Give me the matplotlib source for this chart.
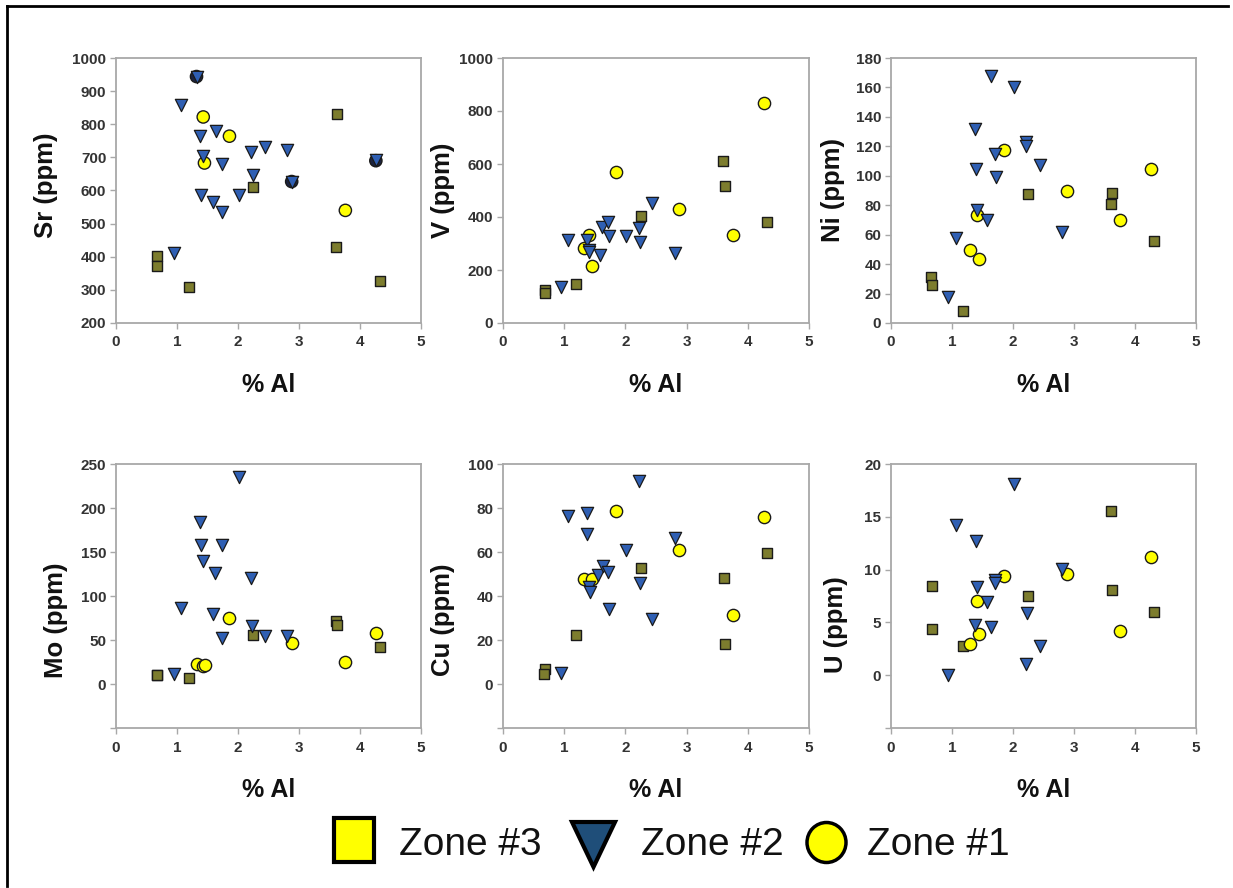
import matplotlib
matplotlib.use('Agg')
import matplotlib.pyplot as plt
from matplotlib.patches import Rectangle, Polygon, Ellipse
from matplotlib.lines import Line2D

plt.rcParams['font.family'] = ['Liberation Sans', 'DejaVu Sans']

# ---------------- data (x = % Al) ----------------
# Sr
sr_z3_x = [0.68, 0.68, 1.19, 2.25, 3.63, 3.60, 4.32]
sr_z3_y = [402, 372, 309, 611, 832, 429, 326]
sr_z2_x = [1.32, 1.06, 1.37, 1.64, 1.43, 1.73, 2.22, 2.44, 2.81, 2.24, 1.39, 1.59, 1.73, 2.02, 0.95, 2.88, 4.26]
sr_z2_y = [942, 859, 766, 780, 704, 680, 716, 731, 721, 647, 587, 566, 534, 585, 410, 627, 692]
sr_z1_x = [1.32, 1.43, 1.86, 1.45, 2.88, 4.26, 3.76]
sr_z1_y = [944, 822, 764, 683, 627, 690, 540]
sr_z1_dark = [True, False, False, False, True, True, False]

# V
v_z3_x = [0.68, 0.68, 1.19, 2.25, 3.60, 3.63, 4.31]
v_z3_y = [124, 113, 146, 405, 610, 516, 381]
v_z2_x = [0.94, 1.06, 1.37, 1.40, 1.40, 1.59, 1.62, 1.72, 1.73, 2.01, 2.22, 2.24, 2.44, 2.81]
v_z2_y = [134, 313, 315, 277, 267, 256, 363, 382, 329, 328, 359, 306, 451, 265]
v_z1_x = [1.32, 1.41, 1.46, 1.85, 2.88, 3.76, 4.26]
v_z1_y = [284, 333, 214, 570, 430, 333, 830]

# Ni
ni_z3_x = [0.66, 0.68, 1.18, 2.25, 3.63, 3.60, 4.31]
ni_z3_y = [31.2, 26, 8.4, 87.5, 88.2, 80.9, 56]
ni_z2_x = [0.93, 1.06, 1.37, 1.39, 1.41, 1.58, 1.64, 1.71, 1.72, 2.01, 2.22, 2.22, 2.45, 2.81]
ni_z2_y = [17.5, 57.6, 132, 104.8, 76.8, 70, 168, 115, 99, 160, 123, 120, 107.5, 62]
ni_z1_x = [1.30, 1.41, 1.44, 1.86, 2.88, 3.76, 4.27]
ni_z1_y = [49.4, 73.6, 43.7, 117.8, 89.7, 70.2, 104.3]

# Mo
mo_z3_x = [0.68, 0.68, 1.19, 2.25, 3.60, 3.63, 4.32]
mo_z3_y = [10.4, 10.0, 6.7, 56, 71.5, 66.7, 42.6]
mo_z2_x = [0.95, 1.07, 1.38, 1.39, 1.43, 1.73, 1.63, 1.59, 1.73, 2.02, 2.22, 2.23, 2.44, 2.81]
mo_z2_y = [11, 86, 184, 158, 140, 158, 126, 80, 52, 235, 120, 66, 55, 54]
mo_z1_x = [1.32, 1.43, 1.46, 1.86, 2.88, 3.75, 4.26]
mo_z1_y = [23, 21, 21.5, 75, 47, 25, 58.5]

# Cu
cu_z3_x = [0.68, 0.67, 1.19, 2.25, 3.61, 3.63, 4.31]
cu_z3_y = [6.8, 4.4, 22.4, 52.6, 48.3, 18.2, 59.7]
cu_z2_x = [0.94, 1.06, 1.38, 1.37, 1.40, 1.42, 1.56, 1.64, 1.72, 1.73, 2.01, 2.22, 2.24, 2.44, 2.81]
cu_z2_y = [4.9, 76.4, 77.8, 68.4, 44, 42, 49.6, 53.8, 50.8, 34.2, 60.7, 92.3, 45.9, 29.6, 66.4]
cu_z1_x = [1.32, 1.46, 1.85, 2.88, 3.76, 4.26]
cu_z1_y = [47.9, 47.9, 78.7, 60.9, 31.4, 76]

# U
u_z3_x = [0.68, 0.67, 1.18, 2.25, 3.61, 3.63, 4.31]
u_z3_y = [8.47, 4.33, 2.78, 7.51, 15.58, 8.04, 6.03]
u_z2_x = [0.93, 1.06, 1.39, 1.41, 1.37, 1.58, 1.64, 1.71, 1.71, 2.01, 2.23, 2.22, 2.45, 2.81]
u_z2_y = [0, 14.2, 12.7, 8.35, 4.8, 6.9, 4.6, 9.0, 8.7, 18.1, 5.9, 1.1, 2.8, 10.1]
u_z1_x = [1.30, 1.45, 1.41, 1.86, 2.88, 3.76, 4.27]
u_z1_y = [3.0, 3.9, 7.0, 9.4, 9.6, 4.2, 11.2]

x_ticks = [0, 1, 2, 3, 4, 5]
x_label = '% Al'
legend_labels = ['Zone #3', 'Zone #2', 'Zone #1']

# ---------------- figure ----------------
W, H = 1233, 888
fig = plt.figure(figsize=(W / 100, H / 100), dpi=100)

SQ_C = '#7d7d2e'
TRI_C = '#2f5fb3'
CIR_C = '#ffff00'
EDGE = '#1a1a1a'
SPINE = '#a8a8a8'

panels = [
    ('Sr (ppm)', (200, 1000), list(range(200, 1001, 100)),
     (sr_z3_x, sr_z3_y, sr_z2_x, sr_z2_y, sr_z1_x, sr_z1_y), (116, 58, 421, 323), -70, 185, sr_z1_dark),
    ('V (ppm)', (0, 1000), list(range(0, 1001, 200)),
     (v_z3_x, v_z3_y, v_z2_x, v_z2_y, v_z1_x, v_z1_y), (503, 58, 809, 323), -60, 190, None),
    ('Ni (ppm)', (0, 180), list(range(0, 181, 20)),
     (ni_z3_x, ni_z3_y, ni_z2_x, ni_z2_y, ni_z1_x, ni_z1_y), (891, 58, 1196, 323), -58, 190, None),
    ('Mo (ppm)', (-50, 250), list(range(-50, 251, 50)),
     (mo_z3_x, mo_z3_y, mo_z2_x, mo_z2_y, mo_z1_x, mo_z1_y), (116, 464, 421, 728), -60, 620, None),
    ('Cu (ppm)', (-20, 100), list(range(-20, 101, 20)),
     (cu_z3_x, cu_z3_y, cu_z2_x, cu_z2_y, cu_z1_x, cu_z1_y), (503, 464, 809, 728), -60, 620, None),
    ('U (ppm)', (-5, 20), list(range(-5, 21, 5)),
     (u_z3_x, u_z3_y, u_z2_x, u_z2_y, u_z1_x, u_z1_y), (891, 464, 1196, 728), -55, 625, None),
]

for label, ylim, yticks, data, box, ydx, ycy, dark in panels:
    l, t, r, b = box
    ax = fig.add_axes([l / W, 1 - b / H, (r - l) / W, (b - t) / H])
    x3, y3, x2, y2, x1, y1 = data
    ax.scatter(x3, y3, marker='s', s=62, c=SQ_C, edgecolors=EDGE, linewidths=1.0, zorder=3)
    if dark is not None:
        faces = ['#1c2340' if d else CIR_C for d in dark]
    else:
        faces = CIR_C
    ax.scatter(x1, y1, marker='o', s=78, c=faces, edgecolors=EDGE, linewidths=1.0, zorder=4)
    ax.scatter(x2, y2, marker='v', s=78, c=TRI_C, edgecolors=EDGE, linewidths=0.9, zorder=5)

    ax.set_xlim(0, 5)
    ax.set_ylim(*ylim)
    ax.set_xticks(x_ticks)
    ax.set_xticklabels([str(v) for v in x_ticks], fontweight='bold')
    ax.set_yticks(yticks)
    ax.set_yticklabels(['' if v < 0 else str(v) for v in yticks], fontweight='bold')
    for s in ax.spines.values():
        s.set_color(SPINE)
        s.set_linewidth(1.3)
    ax.tick_params(axis='both', direction='out', length=4, width=1, color=SPINE,
                   labelsize=11, labelcolor='#333333')
    ax.tick_params(axis='x', pad=5)
    ax.tick_params(axis='y', pad=3)

    pw, ph = r - l, b - t
    ax.text(0.5, -(385 - 323) / ph, x_label, transform=ax.transAxes, ha='center', va='center',
            fontsize=18, fontweight='bold', color='#111111')
    ax.text(ydx / pw, (b - ycy) / ph, label, transform=ax.transAxes, ha='center', va='center',
            rotation=90, fontsize=18.5, fontweight='bold', color='#111111')

# ---------------- legend (figure pixels) ----------------
def fx(x):
    return x / W

def fy(y):
    return 1 - y / H

fig.add_artist(Rectangle((fx(334), fy(862)), 40 / W, 44 / H, transform=fig.transFigure,
                         facecolor='#ffff00', edgecolor='black', linewidth=3))
fig.add_artist(Polygon([(fx(572), fy(822)), (fx(615), fy(822)), (fx(593.5), fy(867))],
                       closed=True, transform=fig.transFigure,
                       facecolor='#1f4e79', edgecolor='black', linewidth=3))
fig.add_artist(Ellipse((fx(826.5), fy(842.5)), 39 / W, 40 / H, transform=fig.transFigure,
                       facecolor='#ffff00', edgecolor='black', linewidth=2.5))
for txt, x in zip(legend_labels, [399, 641, 867]):
    fig.text(fx(x), fy(855), txt, ha='left', va='baseline', fontsize=28, color='#111111')

# ---------------- frame ----------------
fig.add_artist(Line2D([fx(7), fx(7)], [fy(6), fy(886)], transform=fig.transFigure,
                      color='black', linewidth=2))
fig.add_artist(Line2D([fx(7), fx(1228)], [fy(6), fy(6)], transform=fig.transFigure,
                      color='black', linewidth=2))

fig.savefig('out.png', dpi=100)
